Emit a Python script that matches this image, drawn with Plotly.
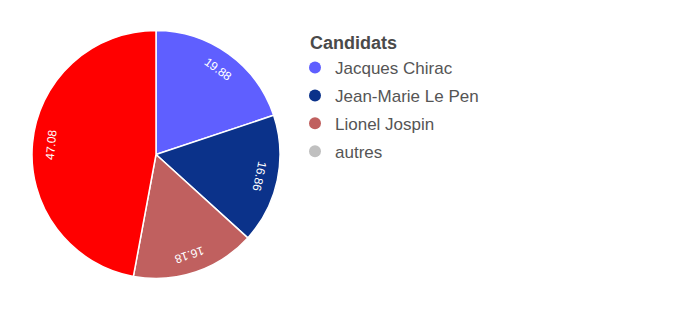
import math
import plotly.graph_objects as go

candidates = ["Jacques Chirac", "Jean-Marie Le Pen", "Lionel Jospin", "autres"]
scores = [19.88, 16.86, 16.18, 47.08]
slice_colors = ["#5f5fff", "#0b328a", "#c0605f", "#ff0000"]
legend_colors = ["#5f5fff", "#0b328a", "#c0605f", "#c0c0c0"]
legend_title = "Candidats"

W, H = 700, 333
CX, CY, R = 156, 154.5, 124  # pie centre and radius in pixels (layout only)
LABEL_FRAC = 0.85

fig = go.Figure()
fig.add_trace(go.Pie(
    labels=candidates,
    values=scores,
    textinfo="none",
    marker=dict(colors=slice_colors, line=dict(color="white", width=1.5)),
    sort=False,
    direction="clockwise",
    rotation=0,
    showlegend=False,
    domain=dict(x=[(CX - R) / W, (CX + R) / W], y=[1 - (CY + R) / H, 1 - (CY - R) / H]),
    hoverinfo="label+value",
))

# slice value labels, oriented along the slice like the reference
total = sum(scores)
cum = 0.0
for v in scores:
    mid = (cum + v / 2) / total * 360.0
    cum += v
    rad = math.radians(mid)
    r = R * LABEL_FRAC
    fig.add_annotation(
        text=f"{v:.2f}", xref="paper", yref="paper",
        x=(CX + r * math.sin(rad)) / W, y=1 - (CY - r * math.cos(rad)) / H,
        xanchor="center", yanchor="middle", showarrow=False,
        textangle=mid, font=dict(size=12, color="white"),
    )

for i, (name, col) in enumerate(zip(candidates, legend_colors)):
    fig.add_trace(go.Scatter(
        x=[None], y=[None], mode="markers", name=name, legendgroup=f"g{i}",
        marker=dict(color=col, size=14, symbol="circle"),
    ))

fig.add_annotation(
    text="<b>" + legend_title + "</b>", xref="paper", yref="paper",
    x=308 / W, y=1 - 43 / H, xanchor="left", yanchor="middle",
    showarrow=False, font=dict(size=18, color="#4a4a4a"),
)

fig.update_layout(
    width=W, height=H,
    margin=dict(l=0, r=0, t=0, b=0),
    paper_bgcolor="white", plot_bgcolor="white",
    xaxis=dict(visible=False), yaxis=dict(visible=False),
    font=dict(family="Arial, Liberation Sans, sans-serif"),
    legend=dict(
        font=dict(size=17, color="#555555"),
        x=295 / W, y=1 - 50 / H, xanchor="left", yanchor="top",
        itemsizing="constant", tracegroupgap=2.8,
        bgcolor="rgba(0,0,0,0)",
    ),
)

fig.write_html("out.html")
